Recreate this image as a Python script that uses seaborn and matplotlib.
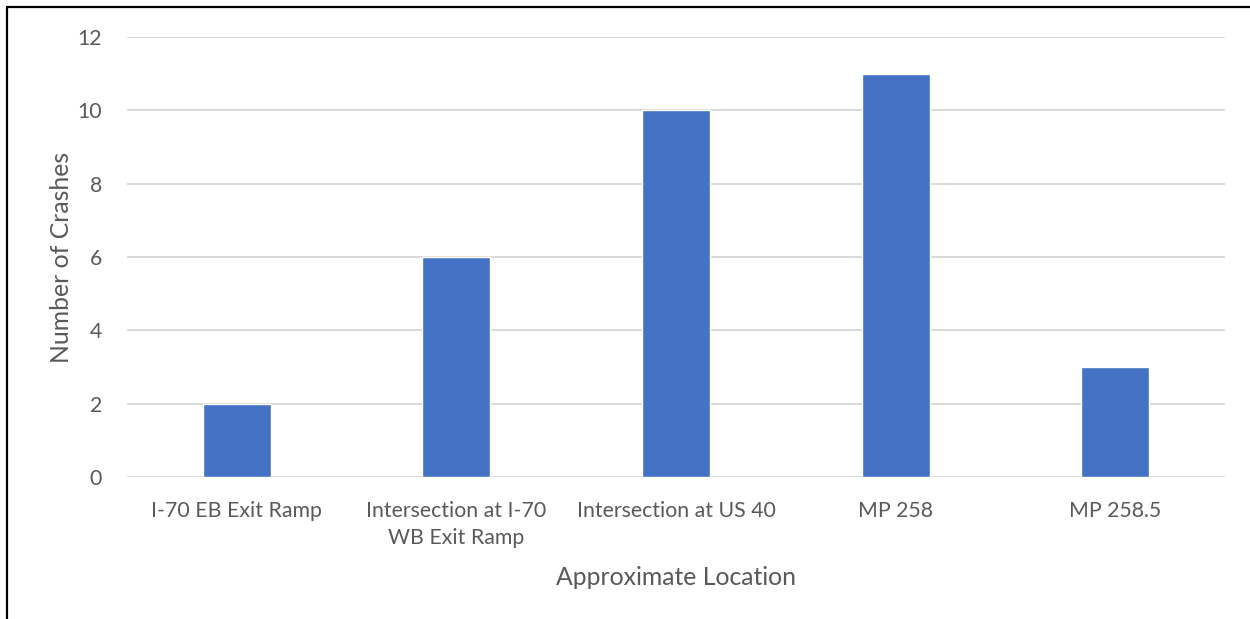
import matplotlib
matplotlib.use("Agg")
import matplotlib.pyplot as plt
from matplotlib.lines import Line2D
import seaborn as sns
import pandas as pd

locations = ["I-70 EB Exit Ramp", "Intersection at I-70\nWB Exit Ramp",
             "Intersection at US 40", "MP 258", "MP 258.5"]
crashes = [2, 6, 10, 11, 3]
y_ticks = [0, 2, 4, 6, 8, 10, 12]

sns.set_theme(style="white")
plt.rcParams["font.family"] = ["Lato", "DejaVu Sans"]

W, H = 1250, 619
fig = plt.figure(figsize=(W / 100, H / 100), dpi=100)
ax = fig.add_axes([127 / W, 1 - 477 / H, (1225 - 127) / W, (477 - 37) / H])

df = pd.DataFrame({"Location": locations, "Crashes": crashes})
sns.barplot(data=df, x="Location", y="Crashes", color="#4472C4",
            saturation=1, width=0.31, ax=ax, zorder=3)

ax.set_ylim(0, 12)
ax.set_xlim(-0.5, len(locations) - 0.5)
ax.set_yticks(y_ticks)
ax.yaxis.grid(True, color="#d9d9d9", linewidth=1.4, zorder=0)
ax.set_axisbelow(True)
for s in ax.spines.values():
    s.set_visible(False)
ax.tick_params(axis="both", length=0, labelsize=15.3, colors="#595959")
ax.tick_params(axis="y", pad=18)
ax.tick_params(axis="x", pad=17)
for lbl in ax.get_xticklabels():
    lbl.set_linespacing(1.48)
ax.set_xlabel("Approximate Location", fontsize=17.8, color="#595959", labelpad=13)
ax.set_ylabel("Number of Crashes", fontsize=17.8, color="#595959", labelpad=3.5)

# frame lines on the left and top of the figure
fig.add_artist(Line2D([7 / W, 7 / W], [0, 1 - 7 / H], transform=fig.transFigure,
                      color="black", linewidth=1.6))
fig.add_artist(Line2D([7 / W, 1], [1 - 7 / H, 1 - 7 / H], transform=fig.transFigure,
                      color="black", linewidth=1.6))

fig.savefig("out.png", dpi=100, facecolor="white")
